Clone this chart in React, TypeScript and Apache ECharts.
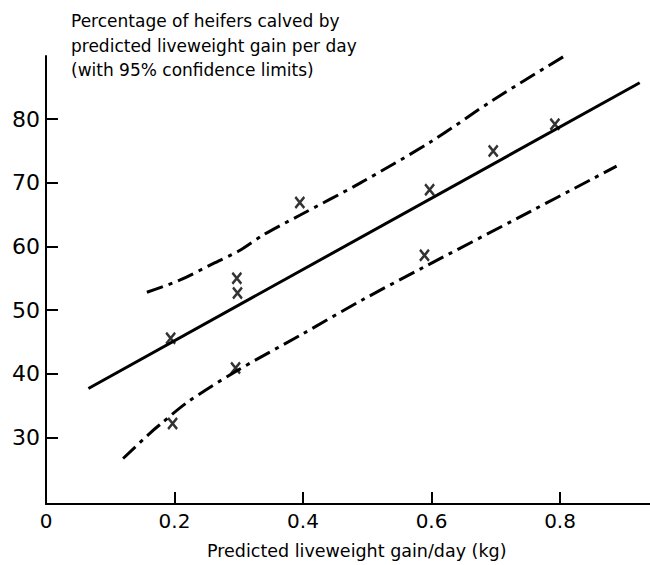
import React, { useEffect, useRef } from "react";
import * as echarts from "echarts";

const titleLines = [
  "Percentage of heifers calved by",
  "predicted liveweight gain per day",
  "(with 95% confidence limits)",
];
const xAxisName = "Predicted liveweight gain/day (kg)";
const yTickValues = [30, 40, 50, 60, 70, 80];
const xTickValues = [0.2, 0.4, 0.6, 0.8];
const xLabelValues = [0, 0.2, 0.4, 0.6, 0.8];

const observedX = [0.194, 0.297, 0.298, 0.295, 0.197, 0.597, 0.696, 0.792, 0.589, 0.395];
const observedY = [45.6, 55.0, 52.7, 40.9, 32.2, 68.9, 75.0, 79.2, 58.6, 66.9];

const regressionX = [0.066, 0.924];
const regressionY = [37.7, 85.7];

const upperX = [0.157, 0.208, 0.26, 0.302, 0.338, 0.395, 0.488, 0.6, 0.696, 0.807];
const upperY = [52.8, 54.7, 57.3, 59.4, 61.8, 64.9, 69.9, 76.5, 83.0, 89.9];

const lowerX = [0.12, 0.162, 0.177, 0.221, 0.294, 0.4, 0.494, 0.589, 0.737, 0.888];
const lowerY = [26.7, 30.7, 32.0, 35.6, 40.3, 46.3, 51.7, 56.8, 64.6, 72.6];

const INK = "#000";
const FONT = "DejaVu Sans";

const zip = (xs: number[], ys: number[]) => xs.map((x, i) => [x, ys[i]]);

export default function App() {
  const ref = useRef<HTMLDivElement>(null);
  useEffect(() => {
    if (!ref.current) return;
    const chart = echarts.init(ref.current, null, { renderer: "svg" });
    const dashDot = [17, 6, 4, 6];
    chart.setOption({
      animation: false,
      backgroundColor: "#fff",
      title: {
        text: titleLines.join("\n"),
        left: 66,
        top: 4,
        textStyle: {
          fontFamily: FONT,
          fontSize: 17,
          fontWeight: "normal",
          color: INK,
          lineHeight: 24.5,
        },
      },
      grid: { left: 46, right: 0, top: 56, bottom: 61, containLabel: false },
      xAxis: {
        type: "value",
        min: 0,
        max: 0.94,
        axisLine: { show: true, onZero: false, lineStyle: { color: INK, width: 2 } },
        axisTick: {
          show: true,
          inside: true,
          length: 12,
          customValues: xTickValues,
          lineStyle: { color: INK, width: 2 },
        },
        axisLabel: {
          customValues: xLabelValues,
          formatter: (v: number) => (v === 0 ? "0" : v.toFixed(1)),
          fontFamily: FONT,
          fontSize: 20,
          color: INK,
          margin: 7,
        },
        splitLine: { show: false },
      },
      yAxis: {
        type: "value",
        min: 19.56,
        max: 89.9,
        axisLine: { show: true, onZero: false, lineStyle: { color: INK, width: 2 } },
        axisTick: {
          show: true,
          inside: true,
          length: 12,
          customValues: yTickValues,
          lineStyle: { color: INK, width: 2 },
        },
        axisLabel: {
          customValues: yTickValues,
          fontFamily: FONT,
          fontSize: 22,
          color: INK,
          margin: 6,
        },
        splitLine: { show: false },
      },
      graphic: [
        {
          type: "text",
          left: 207,
          top: 542,
          style: {
            text: xAxisName,
            fontFamily: FONT,
            fontSize: 17.5,
            fill: INK,
          },
        },
      ],
      series: [
        {
          name: "Regression",
          type: "line",
          data: zip(regressionX, regressionY),
          showSymbol: false,
          lineStyle: { color: INK, width: 3 },
        },
        {
          name: "Upper 95% limit",
          type: "line",
          data: zip(upperX, upperY),
          smooth: 0.3,
          showSymbol: false,
          lineStyle: { color: INK, width: 3, type: dashDot },
        },
        {
          name: "Lower 95% limit",
          type: "line",
          data: zip(lowerX, lowerY),
          smooth: 0.3,
          showSymbol: false,
          lineStyle: { color: INK, width: 3, type: dashDot },
        },
        {
          name: "Observed",
          type: "scatter",
          data: zip(observedX, observedY),
          symbol: "path://M0,0L10,12M10,0L0,12",
          symbolSize: [9, 11],
          itemStyle: { color: "rgba(0,0,0,0)", borderColor: INK, borderWidth: 2.6 },
          z: 5,
        },
      ],
    });
    return () => chart.dispose();
  }, []);
  return (
    <div
      ref={ref}
      style={{ position: "fixed", left: 0, top: 0, width: 650, height: 565 }}
    />
  );
}
